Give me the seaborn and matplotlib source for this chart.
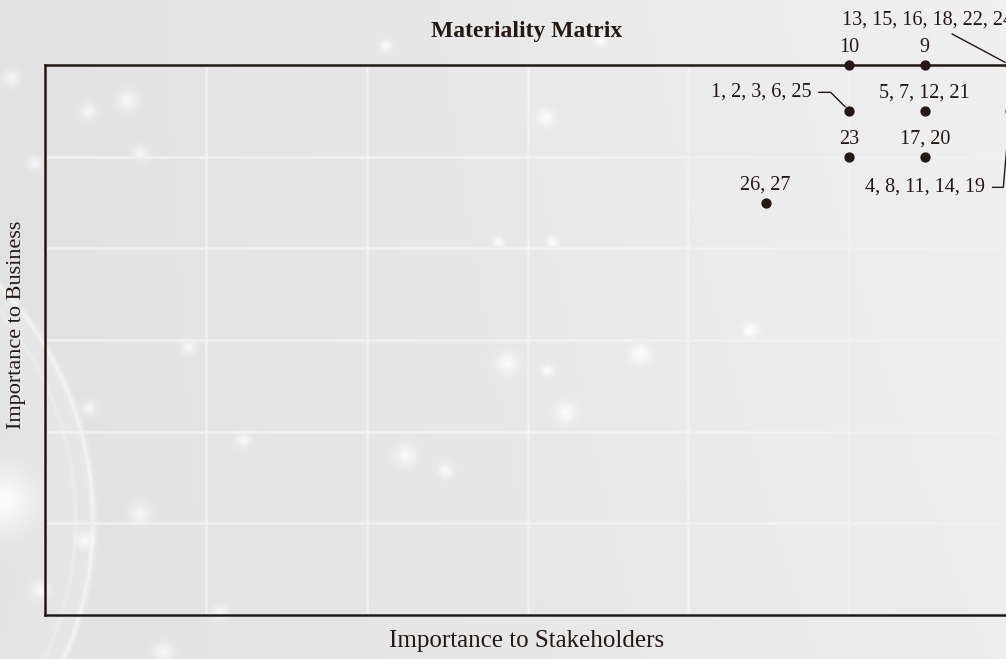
import numpy as np
import pandas as pd
import matplotlib
matplotlib.use("Agg")
import matplotlib.pyplot as plt
import seaborn as sns

# ---------------- data ----------------
importance_stakeholders = [5.0, 5.47, 6.0, 5.0, 5.47, 6.0, 5.0, 5.47, 4.48]
importance_business = [6.0, 6.0, 6.0, 5.5, 5.5, 5.5, 5.0, 5.0, 4.5]
issue_labels = ["10", "9", "13, 15, 16, 18, 22, 24", "1, 2, 3, 6, 25",
                "5, 7, 12, 21", "4, 8, 11, 14, 19", "23", "17, 20", "26, 27"]
grid_ticks = [0, 1, 2, 3, 4, 5, 6]
title_text = "Materiality Matrix"
x_label_text = "Importance to Stakeholders"
y_label_text = "Importance to Business"

df = pd.DataFrame({"stake": importance_stakeholders,
                   "business": importance_business,
                   "label": issue_labels})

# ---------------- style ----------------
INK = "#231815"
sns.set_theme(style="white")
plt.rcParams["font.family"] = ["Liberation Serif", "DejaVu Serif"]

W, H = 1006, 659
fig = plt.figure(figsize=(W / 100, H / 100), dpi=100)

# decorative background (soft grey light texture)
yy, xx = np.mgrid[0:H, 0:W].astype(float)
img = 0.885 + 0.045 * (xx / W) + 0.012 * (1 - yy / H) * (xx / W)
d = np.hypot(xx + 250, yy - 520)
img += 0.018 * (d < 343) * np.clip((d - 200) / 143, 0, 1)
img += 0.05 * np.exp(-((d - 343) ** 2) / (2 * 2.0 ** 2))
img += 0.02 * np.exp(-((d - 325) ** 2) / (2 * 1.5 ** 2))
bokeh = [(11, 77, 6), (127, 100, 7), (88, 111, 6), (140, 153, 5), (34, 163, 5),
         (188, 347, 5), (243, 440, 5), (89, 408, 5), (140, 513, 7), (84, 540, 5),
         (40, 590, 6), (220, 612, 5), (163, 652, 7), (498, 242, 4), (552, 242, 4),
         (507, 363, 7), (547, 370, 4), (640, 353, 7), (565, 412, 7), (405, 455, 7),
         (445, 470, 5), (750, 330, 5), (545, 117, 6), (600, 40, 4), (385, 45, 4)]
for bx, by, r in bokeh:
    img += 0.07 * np.exp(-((xx - bx) ** 2 + (yy - by) ** 2) / (2 * r ** 2))
img += 0.09 * np.exp(-((xx - 2) ** 2 + (yy - 500) ** 2) / (2 * 22 ** 2))
img = np.clip(img, 0, 1)
bg = fig.add_axes([0, 0, 1, 1], zorder=0)
bg.imshow(np.dstack([img, img, img]), extent=[0, 1, 0, 1], aspect="auto",
          origin="upper", interpolation="bilinear")
bg.axis("off")

# main axes (right edge runs just past the canvas, as in the reference)
ax = fig.add_axes([45 / W, 44 / H, 965 / W, 550 / H], zorder=1)
ax.set_facecolor("none")

sns.scatterplot(data=df, x="stake", y="business", ax=ax, s=55, color=INK,
                edgecolor=INK, linewidth=0, legend=False, clip_on=False, zorder=6)

ax.set_xlim(grid_ticks[0], grid_ticks[-1])
ax.set_ylim(grid_ticks[0], grid_ticks[-1])
ax.set_xticks(grid_ticks)
ax.set_yticks(grid_ticks)
ax.tick_params(length=0, labelbottom=False, labelleft=False)
ax.grid(True, color="#f1f1f1", linewidth=1.8, zorder=0)
ax.set_axisbelow(True)
ax.set_xlabel("")
ax.set_ylabel("")
for side in ["left", "top", "bottom"]:
    ax.spines[side].set_color(INK)
    ax.spines[side].set_linewidth(1.8)
    ax.spines[side].set_zorder(5)
ax.spines["right"].set_visible(False)

LABEL_FS = 14.5
leader_style = {
    "13, 15, 16, 18, 22, 24": dict(off=(-168, 40), ha="left",
                                    conn="arc3,rad=0", relpos=(0.6, 0.0), shrinkA=1),
    "1, 2, 3, 6, 25": dict(off=(-38, 14), ha="right",
                           conn="angle,angleA=0,angleB=-45,rad=0", relpos=(1.0, 0.5), shrinkA=3),
    "4, 8, 11, 14, 19": dict(off=(-25, -81), ha="right",
                             conn="angle,angleA=0,angleB=85,rad=0", relpos=(1.0, 0.5), shrinkA=3),
}

for _, row in df.iterrows():
    lbl = row["label"]
    if lbl in leader_style:
        st = leader_style[lbl]
        ax.annotate(lbl, (row["stake"], row["business"]), xytext=st["off"],
                    textcoords="offset pixels", ha=st["ha"], va="baseline",
                    fontsize=LABEL_FS, color=INK, annotation_clip=False, zorder=7,
                    arrowprops=dict(arrowstyle="-", color=INK, lw=1.0,
                                    connectionstyle=st["conn"], relpos=st["relpos"],
                                    shrinkA=st["shrinkA"], shrinkB=4))
    else:
        ax.annotate(lbl, (row["stake"], row["business"]), xytext=(0, 13),
                    textcoords="offset pixels", ha="center", va="baseline",
                    fontsize=LABEL_FS, color=INK, annotation_clip=False, zorder=7)

fig.text(527 / W, 1 - 31 / H, title_text, ha="center", va="center",
         fontsize=17, fontweight="bold", color=INK)
fig.text(527 / W, 1 - 641 / H, x_label_text, ha="center", va="center",
         fontsize=18, color=INK)
fig.text(17 / W, 1 - 325 / H, y_label_text, ha="center", va="center",
         rotation=90, fontsize=16, color=INK)

fig.savefig("out.png", dpi=100)
